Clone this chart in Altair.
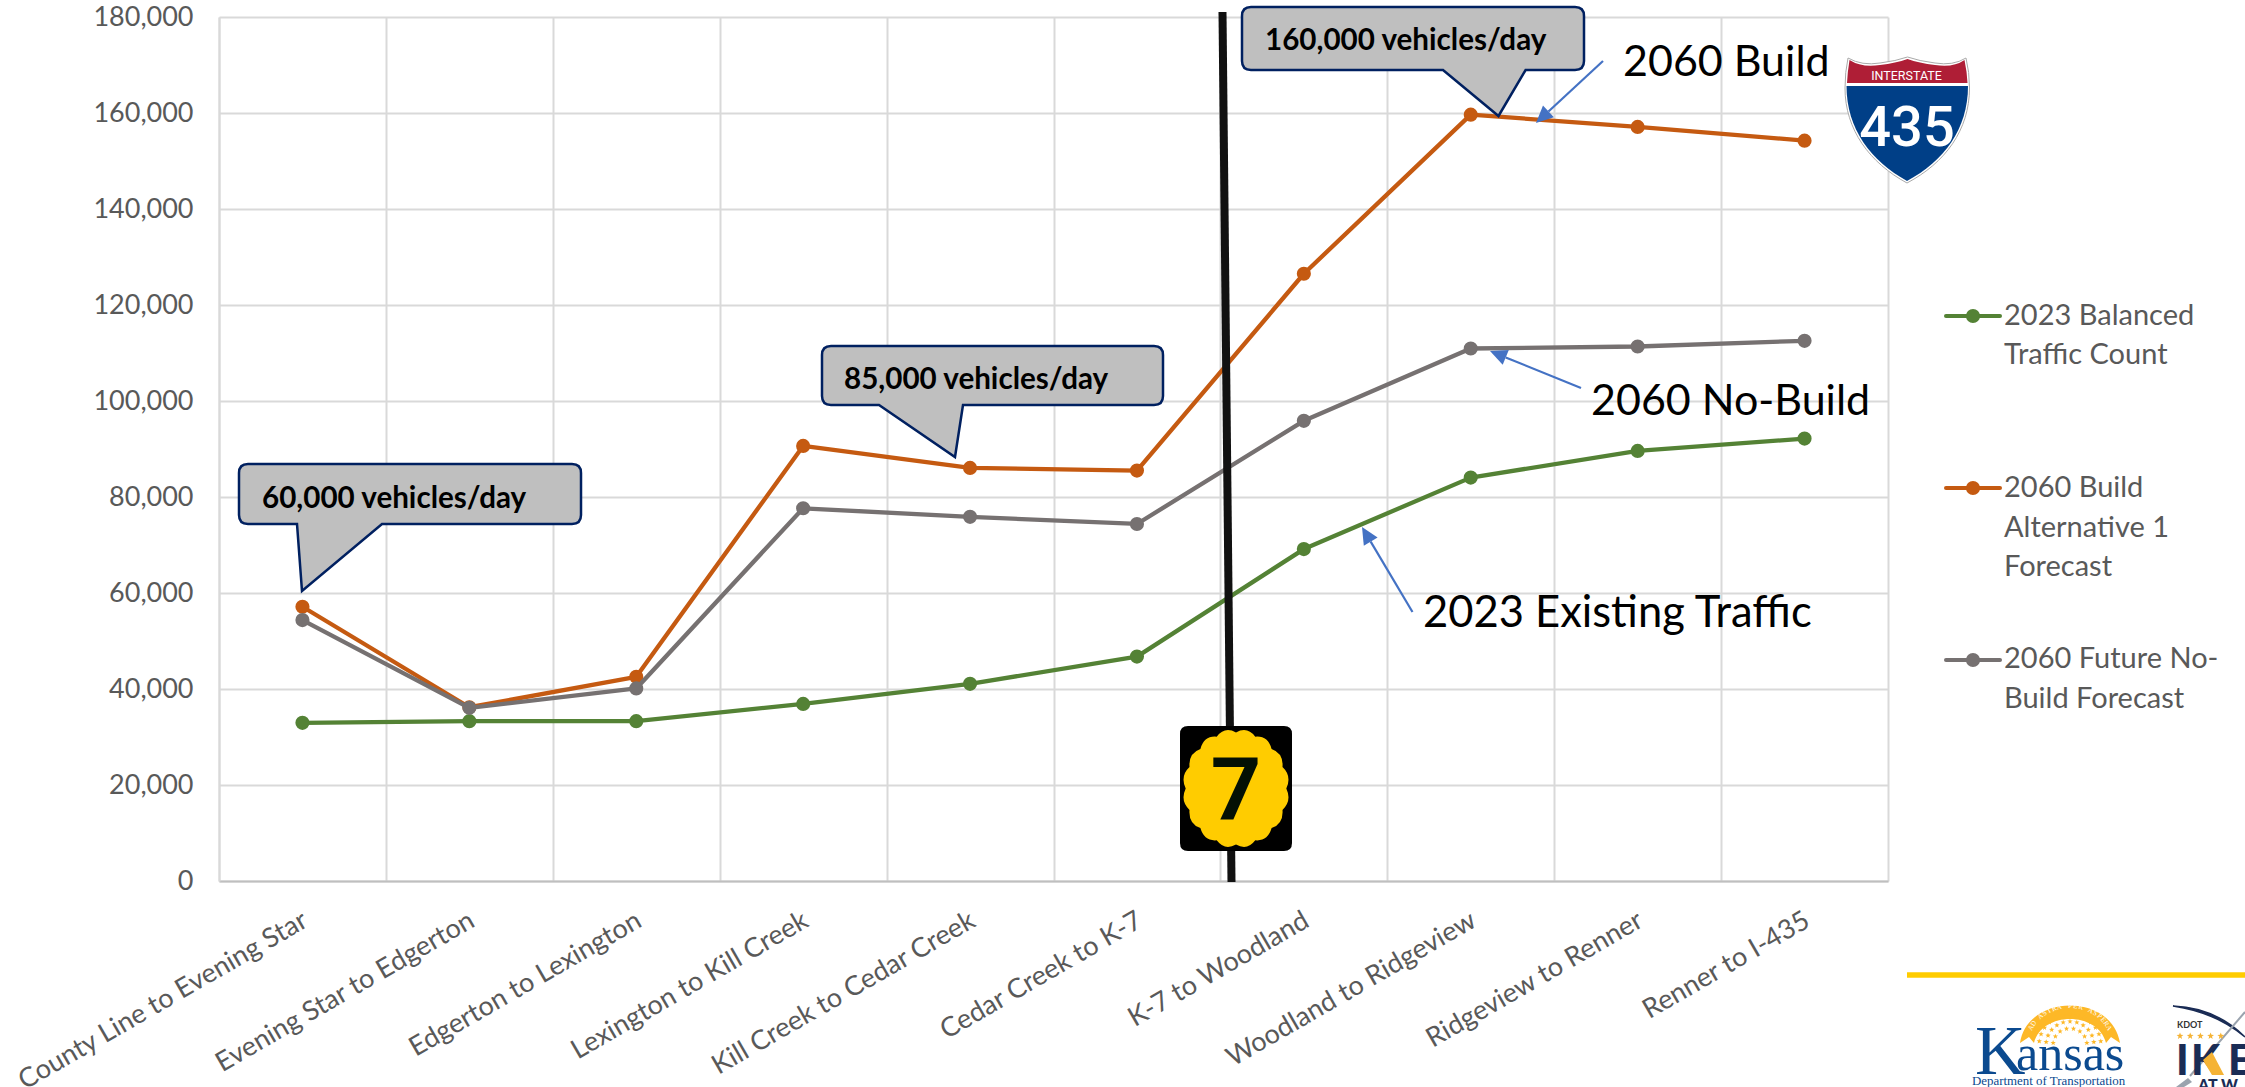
import math
import altair as alt
import pandas as pd

# Corridor segments along I-35 / K-10, west to east
segments = [
    "County Line to Evening Star", "Evening Star to Edgerton", "Edgerton to Lexington",
    "Lexington to Kill Creek", "Kill Creek to Cedar Creek", "Cedar Creek to K-7",
    "K-7 to Woodland", "Woodland to Ridgeview", "Ridgeview to Renner", "Renner to I-435",
]
balanced_2023 = [32950, 33300, 33300, 36900, 41080, 46750, 69150, 84040, 89600, 92170]
build_2060 = [57140, 36200, 42540, 90640, 86060, 85500, 126510, 159660, 157100, 154240]
nobuild_2060 = [54360, 36080, 40120, 77650, 75860, 74380, 95870, 110935, 111350, 112540]
series_names = ["2023 Balanced Traffic Count", "2060 Build Alternative 1 Forecast", "2060 Future No-Build Forecast"]
series_values = [balanced_2023, build_2060, nobuild_2060]
series_colors = ["#548235", "#C55A11", "#767171"]
y_ticks = [0, 20000, 40000, 60000, 80000, 100000, 120000, 140000, 160000, 180000]
y_tick_labels = ["0", "20,000", "40,000", "60,000", "80,000", "100,000", "120,000", "140,000", "160,000", "180,000"]

FONT = "Lato"
SIGN = "Roboto"
SERIF = "Liberation Serif"
LEFT, TOP = 219, 17
PLOT_W, PLOT_H = 1669, 864
NAVY = "#002060"
ARROW = "#4472C4"
MARKER = 200
one = pd.DataFrame({"n": [0]})

long_rows = pd.DataFrame(
    [
        {"segment": s, "series": name, "volume": v}
        for name, vals in zip(series_names, series_values)
        for s, v in zip(segments, vals)
    ]
)

x_enc = alt.X(
    "segment:N",
    sort=segments,
    title=None,
    scale=alt.Scale(type="band", domain=segments, paddingInner=0, paddingOuter=0),
    axis=alt.Axis(
        labelAngle=-30, labelAlign="right", labelBaseline="top", labelFontSize=27, labelFont=FONT,
        labelColor="#595959", labelPadding=26, labelOffset=-4, labelLimit=500, ticks=False,
        tickBand="extent", grid=True, gridColor="#D9D9D9", gridWidth=2, domainColor="#BFBFBF",
        domainWidth=2, labelOverlap=False,
    ),
)
tick_lookup = "[" + ",".join(f"'{t}'" for t in y_tick_labels) + "]"
y_enc = alt.Y(
    "volume:Q",
    title=None,
    scale=alt.Scale(domain=[0, 180000], nice=False),
    axis=alt.Axis(
        values=y_ticks, labelExpr=f"{tick_lookup}[round(datum.value / 20000)]", labelFontSize=27,
        labelFont=FONT, labelColor="#595959", labelPadding=26, ticks=False, grid=True,
        gridColor="#D9D9D9", gridWidth=2, domainColor="#D9D9D9", domainWidth=2,
    ),
)
color_enc = alt.Color(
    "series:N", scale=alt.Scale(domain=series_names, range=series_colors), legend=None
)


def shape(path, fill="transparent", stroke=None, width=0):
    """Draw an SVG path given in page pixels (size 4 makes one path unit one pixel)."""
    kw = {"shape": path, "size": 4, "filled": True, "fill": fill, "opacity": 1, "strokeOpacity": 1}
    if stroke:
        kw.update(stroke=stroke, strokeWidth=width)
    return alt.Chart(one).mark_point(**kw).encode(x=alt.value(-LEFT), y=alt.value(-TOP))


def label(text, x, y, size, color="#000000", font=FONT, weight="normal", align="left", angle=0):
    return (
        alt.Chart(one)
        .mark_text(
            font=font, fontSize=size, fontWeight=weight, color=color, align=align,
            baseline="alphabetic", angle=angle,
        )
        .encode(x=alt.value(x - LEFT), y=alt.value(y - TOP), text=alt.value(text))
    )


def segment(x1, y1, x2, y2, color, width, cap="butt"):
    return (
        alt.Chart(one)
        .mark_rule(color=color, strokeWidth=width, strokeCap=cap)
        .encode(
            x=alt.value(x1 - LEFT), y=alt.value(y1 - TOP),
            x2=alt.value(x2 - LEFT), y2=alt.value(y2 - TOP),
        )
    )


def callout_path(x0, y0, x1, y1, tail_a, tip, tail_b, r=9):
    return (
        f"M{x0 + r} {y0}L{x1 - r} {y0}Q{x1} {y0} {x1} {y0 + r}L{x1} {y1 - r}Q{x1} {y1} {x1 - r} {y1}"
        f"L{tail_b} {y1}L{tip[0]} {tip[1]}L{tail_a} {y1}"
        f"L{x0 + r} {y1}Q{x0} {y1} {x0} {y1 - r}L{x0} {y0 + r}Q{x0} {y0} {x0 + r} {y0}Z"
    )


def callout(text, box, tail_a, tip, tail_b, tx, ty):
    return [
        shape(callout_path(*box, tail_a, tip, tail_b), fill="#BFBFBF", stroke=NAVY, width=2.5),
        label(text, tx, ty, 29.6, weight="bold"),
    ]


def arrow(x1, y1, x2, y2):
    ang = math.atan2(y2 - y1, x2 - x1)
    length, half = 17, 8
    bx, by = x2 - length * math.cos(ang), y2 - length * math.sin(ang)
    nx, ny = -math.sin(ang) * half, math.cos(ang) * half
    head = f"M{x2:.1f} {y2:.1f}L{bx + nx:.1f} {by + ny:.1f}L{bx - nx:.1f} {by - ny:.1f}Z"
    return [segment(x1, y1, bx, by, ARROW, 2.2), shape(head, fill=ARROW)]


def scallop_path(cx, cy, rx, ry, lobes):
    pts = [
        (cx + rx * 0.95 * math.sin(2 * math.pi * i / lobes), cy - ry * 0.95 * math.cos(2 * math.pi * i / lobes))
        for i in range(lobes)
    ]
    d = f"M{pts[0][0]:.1f} {pts[0][1]:.1f}"
    for i in range(lobes):
        mid = 2 * math.pi * (i + 0.5) / lobes
        qx, qy = cx + rx * 1.08 * math.sin(mid), cy - ry * 1.08 * math.cos(mid)
        nx, ny = pts[(i + 1) % lobes]
        d += f"Q{qx:.1f} {qy:.1f} {nx:.1f} {ny:.1f}"
    return d + "Z"


def star_path(cx, cy, r):
    d = ""
    for i in range(10):
        rad = r if i % 2 == 0 else r * 0.42
        a = math.pi * i / 5
        d += ("M" if i == 0 else "L") + f"{cx + rad * math.sin(a):.1f} {cy - rad * math.cos(a):.1f}"
    return d + "Z"


layers = []

# One line and one marker layer per series so later series sit on top
for name in series_names:
    rows = long_rows[long_rows["series"] == name]
    base = alt.Chart(rows).encode(x=x_enc, y=y_enc, color=color_enc)
    layers.append(base.mark_line(strokeWidth=4.3, strokeCap="round", strokeJoin="round"))
    layers.append(base.mark_circle(size=MARKER, opacity=1))

# K-7 crossing marker
layers.append(segment(1222.5, 12, 1231.5, 882, "#111111", 8))

# Callouts
layers += callout("60,000 vehicles/day", (239, 464, 581, 524), 297, (302, 591), 382, 262, 508)
layers += callout("85,000 vehicles/day", (822, 346, 1163, 405), 879, (955, 457), 963, 844, 389)
layers += callout("160,000 vehicles/day", (1242, 7, 1584, 70), 1443, (1498.5, 116), 1525.6, 1265, 50)

# Series labels with arrows
layers.append(label("2060 Build", 1623, 76, 43))
layers.append(label("2060 No-Build", 1591, 415, 43))
layers.append(label("2023 Existing Traffic", 1423, 627, 43.5))
layers += arrow(1603, 61, 1536, 123)
layers += arrow(1581, 388, 1490, 351)
layers += arrow(1412.5, 612, 1362, 527)

# K-7 route sign
layers.append(
    shape(
        "M1188 726L1284 726Q1292 726 1292 734L1292 843Q1292 851 1284 851L1188 851"
        "Q1180 851 1180 843L1180 734Q1180 726 1188 726Z",
        fill="#000000",
    )
)
layers.append(shape(scallop_path(1236, 788.5, 53, 59, 16), fill="#FFCC00"))
layers.append(label("7", 1236, 820, 88, color="#041004", font=SIGN, weight="bold", align="center"))

# I-435 shield
outer = (
    "M1848 58Q1862 66 1880 63Q1896 61 1907.5 57Q1919 61 1935 63Q1953 66 1966 58"
    "Q1969.5 72 1969.5 88C1969.5 130 1945 163 1907 183C1870 163 1845 130 1845 88Q1845 72 1848 58Z"
)
red = (
    "M1849.5 60Q1862 68 1880 65Q1896 63 1907.5 59Q1919 63 1935 65Q1953 68 1964.5 60"
    "Q1967 72 1967.5 83L1847 83Q1847.5 72 1849.5 60Z"
)
blue = "M1846.5 86L1968 86C1968 129 1944 161 1907 181C1871 161 1846.5 129 1846.5 86Z"
layers.append(shape(outer, fill="#FFFFFF", stroke="#AAAAAA", width=1))
layers.append(shape(red, fill="#AF1E36"))
layers.append(shape(blue, fill="#003F87"))
layers.append(label("INTERSTATE", 1906.5, 80, 12.5, color="#FFFFFF", font=SIGN, align="center"))
layers.append(label("435", 1907, 146, 56, color="#FFFFFF", font=SIGN, weight=500, align="center"))

# Legend
legend_y = [316, 488, 660]
legend_text = [
    [("2023 Balanced", 325), ("Traffic Count", 364)],
    [("2060 Build", 497), ("Alternative 1", 537), ("Forecast", 576)],
    [("2060 Future No-", 668), ("Build Forecast", 708)],
]
for ly, color, lines in zip(legend_y, series_colors, legend_text):
    layers.append(segment(1946, ly, 2000, ly, color, 4, "round"))
    layers.append(
        alt.Chart(one)
        .mark_circle(size=MARKER, color=color, opacity=1)
        .encode(x=alt.value(1973 - LEFT), y=alt.value(ly - TOP))
    )
    for text, base_y in lines:
        layers.append(label(text, 2004, base_y, 29, color="#595959"))

# Footer rule and Kansas DOT logo
layers.append(segment(1907, 975, 2245, 975, "#FFCC00", 5.5))
KS_BLUE = "#0B4A8F"
GOLD = "#FDB827"
cx, cy = 2070, 1043
arch = (
    f"M{cx - 50} {cy}C{cx - 42} {cy - 50} {cx + 42} {cy - 50} {cx + 50} {cy}"
    f"L{cx + 41} {cy - 6}L{cx + 36} {cy}C{cx + 28} {cy - 32} {cx - 28} {cy - 32} {cx - 36} {cy}"
    f"L{cx - 41} {cy - 6}Z"
)
layers.append(shape(arch, fill=GOLD))
stars = ""
for radius, count in [(31, 13), (24, 11), (17, 8)]:
    for i in range(count):
        a = math.pi * (i / (count - 1) - 0.5) * 0.92
        stars += star_path(cx + radius * math.sin(a), cy + 2 - radius * 0.98 * math.cos(a), 2.8)
layers.append(shape(stars, fill=GOLD))
motto = "AD ASTRA PER ASPERA"
for i, ch in enumerate(motto):
    a = math.pi * 0.72 * (i / (len(motto) - 1) - 0.5)
    layers.append(
        label(
            ch, cx + 41 * math.sin(a), cy + 1 - 36 * math.cos(a), 7, color="#FFFFFF", font=SERIF,
            align="center", angle=(math.degrees(a) + 360) % 360,
        )
    )
layers.append(label("K", 1975, 1074, 70, color=KS_BLUE, font=SERIF))
layers.append(label("ansas", 2016, 1070, 50, color=KS_BLUE, font=SERIF))
layers.append(label("Department of Transportation", 1972, 1085, 12.9, color=KS_BLUE, font=SERIF))

# IKE program logo, running off the page edge
IKE_NAVY = "#1A2C55"
layers.append(shape("M2173 1006C2200 1007 2225 1017 2245 1037C2225 1020 2200 1010 2173 1006Z", fill=IKE_NAVY, stroke=IKE_NAVY, width=1.5))
layers.append(segment(2190, 1076, 2245, 1012, "#9AA3AE", 2))
layers.append(label("KDOT", 2177, 1028, 9, color="#333333", weight="bold"))
layers.append(shape("".join(star_path(2180 + 10.2 * i, 1036, 3.6) for i in range(5)), fill="#F5B335"))
layers.append(label("I", 2176, 1075, 42, color=IKE_NAVY, font=FONT, weight=900))
layers.append(label("K", 2191, 1075, 42, color=IKE_NAVY, font=FONT, weight=900))
layers.append(shape("M2203 1060L2212 1052L2224 1075L2212 1075Z", fill="#F5B335"))
layers.append(label("E", 2228, 1075, 42, color=IKE_NAVY, font=FONT, weight=900))
layers.append(shape("M2176 1087L2188 1078L2192 1082L2184 1087Z", fill="#9AA3AE"))
layers.append(label("AT W", 2198, 1091, 16, color=IKE_NAVY, font=FONT, weight=900))

chart = (
    alt.layer(*layers)
    .properties(
        width=PLOT_W,
        height=PLOT_H,
        padding={"left": LEFT, "top": TOP, "right": 2245 - LEFT - PLOT_W, "bottom": 1087 - TOP - PLOT_H},
        autosize=alt.AutoSizeParams(type="none"),
        background="#FFFFFF",
    )
    .configure_view(stroke=None)
)

chart.save("out.html", embed_options={"renderer": "svg", "actions": False})
